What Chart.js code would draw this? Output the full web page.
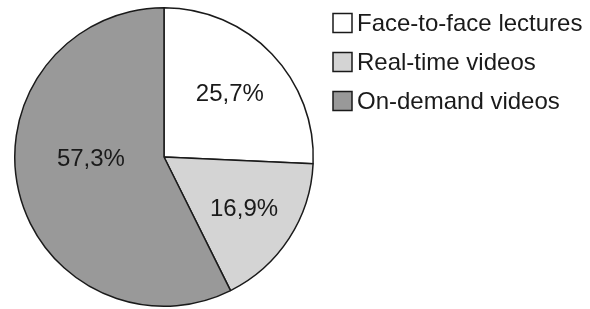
<!DOCTYPE html>
<html>
<head>
<meta charset="utf-8">
<script src="https://cdn.jsdelivr.net/npm/chart.js@4/dist/chart.umd.min.js"></script>
<style>
  html, body { margin: 0; padding: 0; background: #fff; }
  #wrap { width: 590px; height: 309px; position: relative; }
</style>
</head>
<body>
<div id="wrap"><canvas id="pieChart"></canvas></div>
<script>
// data
var categories = ["Face-to-face lectures", "Real-time videos", "On-demand videos"];
var shares = [25.7, 16.9, 57.3];
var sliceColors = ["#ffffff", "#d4d4d4", "#999999"];

// percentage text inside each slice
var sliceLabels = {
	id: 'sliceLabels',
	afterDatasetsDraw: function (chart, args, opts) {
		var ctx = chart.ctx;
		var meta = chart.getDatasetMeta(0);
		ctx.save();
		ctx.font = '24px "Liberation Sans", Arial, sans-serif';
		ctx.fillStyle = '#1a1a1a';
		ctx.textAlign = 'center';
		ctx.textBaseline = 'middle';
		meta.data.forEach(function (arc, i) {
			var p = arc.getProps(['x', 'y', 'startAngle', 'endAngle', 'outerRadius'], true);
			var mid = (p.startAngle + p.endAngle) / 2 + opts.angleShift[i] * Math.PI / 180;
			var r = p.outerRadius * opts.radius[i];
			var txt = shares[i].toFixed(1).replace('.', ',') + '%';
			ctx.fillText(txt, p.x + Math.cos(mid) * r, p.y + Math.sin(mid) * r);
		});
		ctx.restore();
	}
};

// legend on the right, boxes with outlines
var sideLegend = {
	id: 'sideLegend',
	afterDraw: function (chart, args, opts) {
		var ctx = chart.ctx;
		var ds = chart.data.datasets[0];
		ctx.save();
		ctx.font = '24px "Liberation Sans", Arial, sans-serif';
		ctx.textBaseline = 'middle';
		chart.data.labels.forEach(function (lab, i) {
			var cy = opts.top + i * opts.step;
			ctx.fillStyle = ds.backgroundColor[i];
			ctx.fillRect(opts.x, cy - opts.box / 2, opts.box, opts.box);
			ctx.lineWidth = 1.5;
			ctx.strokeStyle = '#1a1a1a';
			ctx.strokeRect(opts.x, cy - opts.box / 2, opts.box, opts.box);
			ctx.fillStyle = '#1a1a1a';
			ctx.fillText(lab, opts.x + opts.box + 5, cy + 1);
		});
		ctx.restore();
	}
};

var ctx = document.getElementById("pieChart").getContext('2d');
var pieChart = new Chart(ctx, {
	type: 'pie',
	data: {
		labels: categories,
		datasets: [{
			data: shares,
			backgroundColor: sliceColors,
			borderColor: '#1a1a1a',
			borderWidth: 1.5
		}]
	},
	options: {
		responsive: true,
		maintainAspectRatio: false,
		animation: false,
		layout: {
			padding: { left: 14, right: 276, top: 7, bottom: 2 }
		},
		plugins: {
			legend: { display: false },
			tooltip: { enabled: false },
			sliceLabels: { radius: [0.61, 0.64, 0.49], angleShift: [0, 0, 11] },
			sideLegend: { x: 333, top: 23, step: 39, box: 19 }
		}
	},
	plugins: [sliceLabels, sideLegend]
});
</script>
</body>
</html>
